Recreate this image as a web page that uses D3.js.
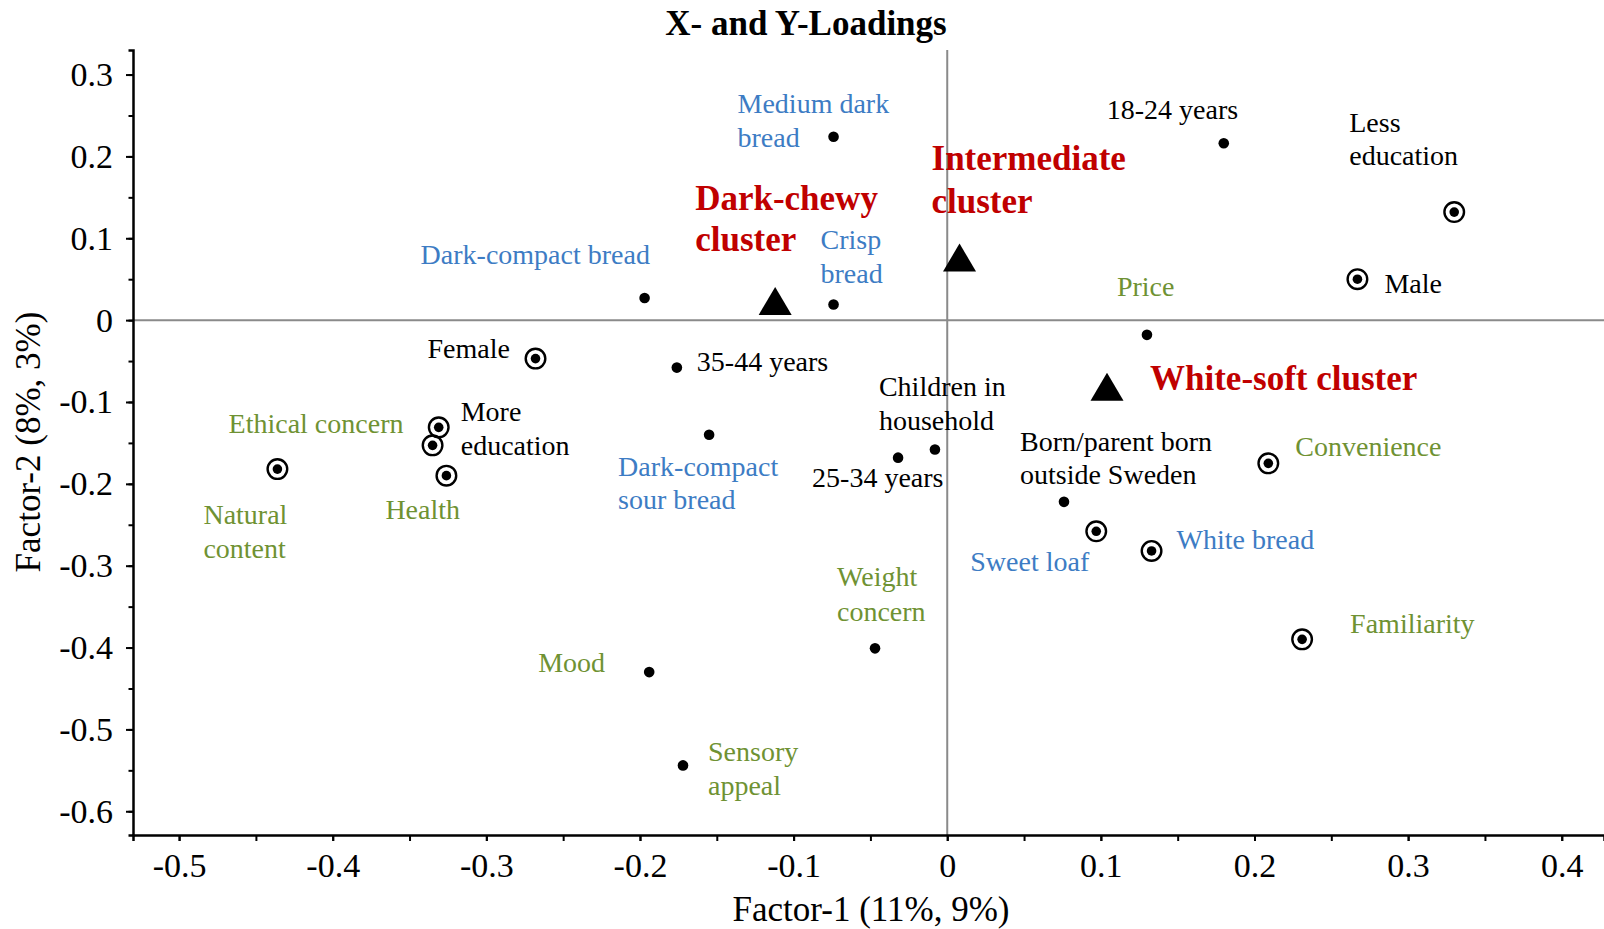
<!DOCTYPE html>
<html>
<head>
<meta charset="utf-8">
<style>
  body { margin: 0; background: #ffffff; }
  svg { display: block; }
  text { font-family: "Liberation Serif", "Times New Roman", serif; }
</style>
<script src="https://d3js.org/d3.v7.min.js"></script>
</head>
<body>
<svg id="chart"></svg>
<script>

// ---- data ----
const names = [
  ["Medium dark", "bread"], ["18-24 years"], ["Less", "education"], ["Male"],
  ["Price"], ["Crisp", "bread"], ["Dark-compact bread"], ["Female"],
  ["35-44 years"], ["More", "education"], ["Ethical concern"], ["Natural", "content"],
  ["Health"], ["Dark-compact", "sour bread"], ["Children in", "household"], ["25-34 years"],
  ["Born/parent born", "outside Sweden"], ["Convenience"], ["Sweet loaf"], ["White bread"],
  ["Weight", "concern"], ["Familiarity"], ["Mood"], ["Sensory", "appeal"]
]
const factor1 = [
  -0.074, 0.180, 0.330, 0.267, 0.130, -0.074, -0.197, -0.268,
  -0.176, -0.331, -0.335, -0.436, -0.326, -0.155, -0.008, -0.032,
  0.076, 0.209, 0.097, 0.133, -0.047, 0.231, -0.194, -0.172
]
const factor2 = [
  0.224, 0.216, 0.132, 0.050, -0.018, 0.019, 0.027, -0.047,
  -0.058, -0.131, -0.153, -0.182, -0.190, -0.140, -0.158, -0.168,
  -0.222, -0.175, -0.258, -0.282, -0.401, -0.390, -0.430, -0.544
]
// variable group: demo = consumer background, bread = bread type, motive = food choice motive
const groups = [
  "bread", "demo", "demo", "demo", "motive", "bread", "bread", "demo",
  "demo", "demo", "motive", "motive", "motive", "bread", "demo", "demo",
  "demo", "motive", "bread", "bread", "motive", "motive", "motive", "motive"
]
// circled markers vs plain dots
const circled = [
  false, false, true, true, false, false, false, true,
  false, true, true, true, true, false, false, false,
  false, true, true, true, false, true, false, false
]

const clusterNames = [["Dark-chewy", "cluster"], ["Intermediate", "cluster"], ["White-soft cluster"]]
const clusterX = [-0.112, 0.008, 0.104]
const clusterY = [0.018, 0.071, -0.087]

const xTicks = [-0.5, -0.4, -0.3, -0.2, -0.1, 0, 0.1, 0.2, 0.3, 0.4]
const yTicks = [0.3, 0.2, 0.1, 0, -0.1, -0.2, -0.3, -0.4, -0.5, -0.6]

// ---- label placement (pixel offsets from marker: dx, dy of first baseline, line height) ----
const labelOffsets = [
  [-96, -24, 34], [-117, -24, 0], [-105, -80, 33], [27, 14, 0],
  [-30, -39, 0], [-13, -56, 34], [-224, -34, 0], [-108, -1, 0],
  [20, 3, 0], [22, -6, 34], [-204, -12, 0], [-74, 55, 34],
  [-61, 43, 0], [-91, 41, 33.5], [-56, -53, 33.5], [-86, 29, 0],
  [-44, -51, 33.5], [27, -7, 0], [-126, 40, 0], [25, -2, 0],
  [-38, -62, 35], [48, -6, 0], [-111, 0, 0], [25, -4, 33.5]
]
const clusterOffsets = [[-80, -95, 41], [-28, -92, 43], [43, -1, 0]]

const colors = { demo: "#000000", bread: "#3d7cc4", motive: "#6f9233" }

const width = 1604, height = 929
const margin = { left: 133, right: 0, top: 50, bottom: 94 }

const svg = d3.select("#chart").attr("width", width).attr("height", height)

const x = d3.scaleLinear().domain([-0.53, 0.4275]).range([margin.left, width - margin.right])
const y = d3.scaleLinear().domain([-0.629, 0.33]).range([height - margin.bottom, margin.top])

// plain hyphen minus, as in the original figure
const fmt = d => String(d)

// zero reference lines
svg.append("line")
  .attr("x1", x(0)).attr("x2", x(0))
  .attr("y1", y.range()[1]).attr("y2", y.range()[0])
  .attr("stroke", "#8a8a8a").attr("stroke-width", 2)
svg.append("line")
  .attr("x1", x.range()[0]).attr("x2", x.range()[1])
  .attr("y1", y(0)).attr("y2", y(0))
  .attr("stroke", "#8a8a8a").attr("stroke-width", 2)

// axes
const minorX = d3.range(-0.5, 0.43, 0.05).map(v => +v.toFixed(2))
const minorY = d3.range(-0.6, 0.31, 0.05).map(v => +v.toFixed(2))

const xAxis = svg.append("g").attr("transform", `translate(0,${y.range()[0]})`)
xAxis.call(d3.axisBottom(x).tickValues(minorX).tickSize(6).tickFormat(""))
xAxis.append("g").call(d3.axisBottom(x).tickValues(xTicks).tickSize(6).tickPadding(12).tickFormat(fmt))
xAxis.selectAll("path.domain").attr("stroke-width", 2.5)
xAxis.selectAll("line").attr("stroke-width", 2)
xAxis.selectAll("text").attr("font-size", 34).attr("font-family", "Liberation Serif").attr("fill", "#000")

const yAxis = svg.append("g").attr("transform", `translate(${x.range()[0]},0)`)
yAxis.call(d3.axisLeft(y).tickValues(minorY).tickSize(4.5).tickFormat(""))
yAxis.append("g").call(d3.axisLeft(y).tickValues(yTicks).tickSize(7).tickPadding(13).tickFormat(fmt))
yAxis.selectAll("path.domain").attr("stroke-width", 2.5)
yAxis.selectAll("line").attr("stroke-width", 2)
yAxis.selectAll("text").attr("font-size", 34).attr("font-family", "Liberation Serif").attr("fill", "#000")
yAxis.selectAll("g g path.domain").remove()
xAxis.selectAll("g g path.domain").remove()

// titles
svg.append("text").attr("x", 806).attr("y", 35).attr("text-anchor", "middle")
  .attr("font-size", 35).attr("font-weight", "bold").text("X- and Y-Loadings")
svg.append("text").attr("x", 871).attr("y", 921).attr("text-anchor", "middle")
  .attr("font-size", 35).text("Factor-1 (11%, 9%)")
svg.append("text").attr("transform", "translate(40,442) rotate(-90)").attr("text-anchor", "middle")
  .attr("font-size", 35).text("Factor-2 (8%, 3%)")

// variable markers
const points = names.map((n, i) => ({
  name: n, fx: factor1[i], fy: factor2[i], group: groups[i], ring: circled[i], off: labelOffsets[i]
}))

const marks = svg.append("g")
marks.selectAll("circle.ring").data(points.filter(d => d.ring)).join("circle")
  .attr("class", "ring")
  .attr("cx", d => x(d.fx)).attr("cy", d => y(d.fy)).attr("r", 9.8)
  .attr("fill", "none").attr("stroke", "#000").attr("stroke-width", 2.4)
marks.selectAll("circle.dot").data(points).join("circle")
  .attr("class", "dot")
  .attr("cx", d => x(d.fx)).attr("cy", d => y(d.fy)).attr("r", d => d.ring ? 4.8 : 5.3)
  .attr("fill", "#000")

const labels = svg.append("g")
points.forEach(d => {
  const t = labels.append("text")
    .attr("x", x(d.fx) + d.off[0]).attr("y", y(d.fy) + d.off[1])
    .attr("font-size", 28).attr("fill", colors[d.group])
  d.name.forEach((line, j) => {
    t.append("tspan").attr("x", x(d.fx) + d.off[0])
      .attr("y", y(d.fy) + d.off[1] + j * d.off[2]).text(line)
  })
})

// cluster triangles
const clusters = clusterNames.map((n, i) => ({ name: n, cx: clusterX[i], cy: clusterY[i], off: clusterOffsets[i] }))
svg.append("g").selectAll("path").data(clusters).join("path")
  .attr("d", d => {
    const px = x(d.cx), py = y(d.cy)
    return `M${px},${py - 18.5}L${px + 16.5},${py + 9.5}L${px - 16.5},${py + 9.5}Z`
  })
  .attr("fill", "#000")

clusters.forEach(d => {
  const t = svg.append("text").attr("font-size", 35).attr("font-weight", "bold").attr("fill", "#c00000")
  d.name.forEach((line, j) => {
    t.append("tspan").attr("x", x(d.cx) + d.off[0])
      .attr("y", y(d.cy) + d.off[1] + j * d.off[2]).text(line)
  })
})

</script>
</body>
</html>
